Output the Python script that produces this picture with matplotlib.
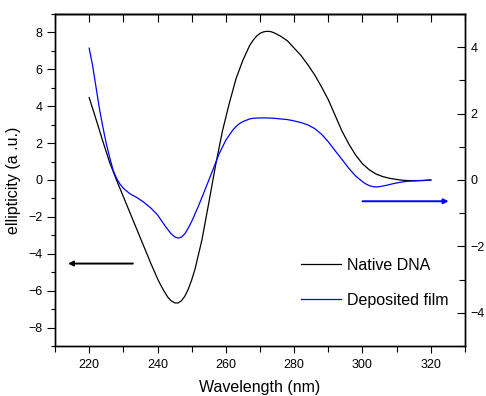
import matplotlib
matplotlib.use("Agg")
import matplotlib.pyplot as plt
from matplotlib.ticker import MultipleLocator

plt.rcParams['font.family'] = ['Liberation Sans', 'DejaVu Sans']

# Native DNA (left axis)
wl_native = [220, 222, 224, 226, 228, 230, 232, 234, 236, 238, 240, 241, 242, 243, 244, 245,
             246, 247, 248, 249, 250, 251, 253, 255, 257, 259, 261, 263, 265, 267, 268, 269,
             270, 271, 272, 273, 274, 275, 276, 278, 280, 282, 284, 286, 288, 290, 292,
             294, 296, 298, 300, 302, 304, 306, 308, 310, 312, 315, 318, 320]
cd_native = [4.47, 3.3, 2.1, 0.95, 0.0, -0.9, -1.8, -2.7, -3.6, -4.5, -5.35, -5.72, -6.05,
             -6.35, -6.55, -6.66, -6.67, -6.55, -6.3, -5.92, -5.42, -4.82, -3.25, -1.25, 0.8,
             2.65, 4.15, 5.5, 6.5, 7.3, 7.58, 7.8, 7.95, 8.03, 8.06, 8.05, 7.99, 7.9, 7.8,
             7.55, 7.15, 6.75, 6.25, 5.7, 5.05, 4.35, 3.5, 2.65, 1.95, 1.35, 0.88, 0.55,
             0.32, 0.18, 0.09, 0.03, -0.02, -0.04, -0.03, 0.0]

# Deposited film (right axis)
wl_film = [220, 221, 222, 223, 224, 225, 226, 227, 228, 229, 230, 232, 234, 236, 238, 240,
           242, 243, 244, 245, 246, 247, 248, 249, 250, 252, 254, 256, 258, 260, 262, 263,
           264, 265, 266, 267, 268, 270, 272, 274, 276, 278, 280, 282, 284, 286, 288, 290,
           292, 294, 296, 298, 300, 301, 302, 303, 304, 305, 307, 309, 311, 313, 316, 320]
cd_film = [3.97, 3.45, 2.8, 2.15, 1.6, 1.1, 0.68, 0.3, 0.05, -0.12, -0.25, -0.42, -0.53, -0.67,
           -0.84, -1.05, -1.35, -1.49, -1.62, -1.71, -1.75, -1.72, -1.62, -1.45, -1.25, -0.78,
           -0.27, 0.25, 0.78, 1.2, 1.5, 1.61, 1.7, 1.76, 1.8, 1.84, 1.86, 1.87, 1.87, 1.86,
           1.84, 1.82, 1.78, 1.73, 1.66, 1.55, 1.38, 1.15, 0.88, 0.62, 0.35, 0.12, -0.05,
           -0.12, -0.17, -0.2, -0.21, -0.2, -0.16, -0.11, -0.07, -0.04, -0.02, 0.0]

labels = ["Native DNA", "Deposited film"]
x_ticks = [220, 240, 260, 280, 300, 320]
left_ticks = [-8, -6, -4, -2, 0, 2, 4, 6, 8]
right_ticks = [-4, -2, 0, 2, 4]

W, H = 486, 396
fig = plt.figure(figsize=(W / 100, H / 100), dpi=100)
ax = fig.add_axes([55 / W, 1 - 346 / H, (465 - 55) / W, (346 - 14) / H])
ax2 = ax.twinx()

l1, = ax.plot(wl_native, cd_native, color='black', lw=0.9)
l2, = ax2.plot(wl_film, cd_film, color='#0000ff', lw=0.9)

ax.set_xlim(210, 330)
ax.set_ylim(-9, 9)
ax2.set_ylim(-5, 5)

ax.set_xticks(x_ticks)
ax.xaxis.set_minor_locator(MultipleLocator(10))
ax.set_yticks(left_ticks)
ax.yaxis.set_minor_locator(MultipleLocator(1))
ax2.set_yticks(right_ticks)
ax2.yaxis.set_minor_locator(MultipleLocator(1))

ax.tick_params(axis='x', which='major', direction='out', length=5, width=0.8, labelsize=9, pad=4)
ax.tick_params(axis='x', which='minor', direction='out', length=4, width=0.8)
ax.tick_params(axis='y', which='major', direction='out', length=6, width=0.8, labelsize=9, pad=3)
ax.tick_params(axis='y', which='minor', direction='out', length=3, width=0.8)
ax2.tick_params(axis='y', which='major', direction='in', length=6, width=0.8, labelsize=9, pad=4)
ax2.tick_params(axis='y', which='minor', direction='in', length=4, width=0.8)

sec = ax.secondary_xaxis('top')
sec.set_xticks(list(range(210, 331, 10)))
sec.tick_params(axis='x', which='major', direction='in', length=6, width=0.8, labeltop=False)
sec.xaxis.set_minor_locator(MultipleLocator(10))
sec.tick_params(axis='x', which='minor', length=0)
sec.spines['top'].set_linewidth(1.0)

for a in (ax, ax2):
    for s in a.spines.values():
        s.set_linewidth(1.0)

ax.set_xlabel("Wavelength (nm)", fontsize=11.5, labelpad=7)
ax.set_ylabel("ellipticity (a .u.)", fontsize=11.5, labelpad=5)

ax.annotate("", xy=(213.8, -4.53), xytext=(232.8, -4.53),
            arrowprops=dict(arrowstyle='-|>', color='black', lw=1.4,
                            mutation_scale=7, shrinkA=0, shrinkB=0))
ax2.annotate("", xy=(325.2, -0.64), xytext=(300, -0.64),
             arrowprops=dict(arrowstyle='-|>', color='#0000ff', lw=1.4,
                             mutation_scale=7, shrinkA=0, shrinkB=0))

leg = fig.legend([l1, l2], labels, loc='upper left',
                 bbox_to_anchor=(301 / W, 1 - 258 / H), frameon=False,
                 fontsize=11.5, handlelength=2.5, handletextpad=0.35,
                 labelspacing=1.25, borderpad=0, borderaxespad=0)

fig.savefig("out.png", dpi=100)
